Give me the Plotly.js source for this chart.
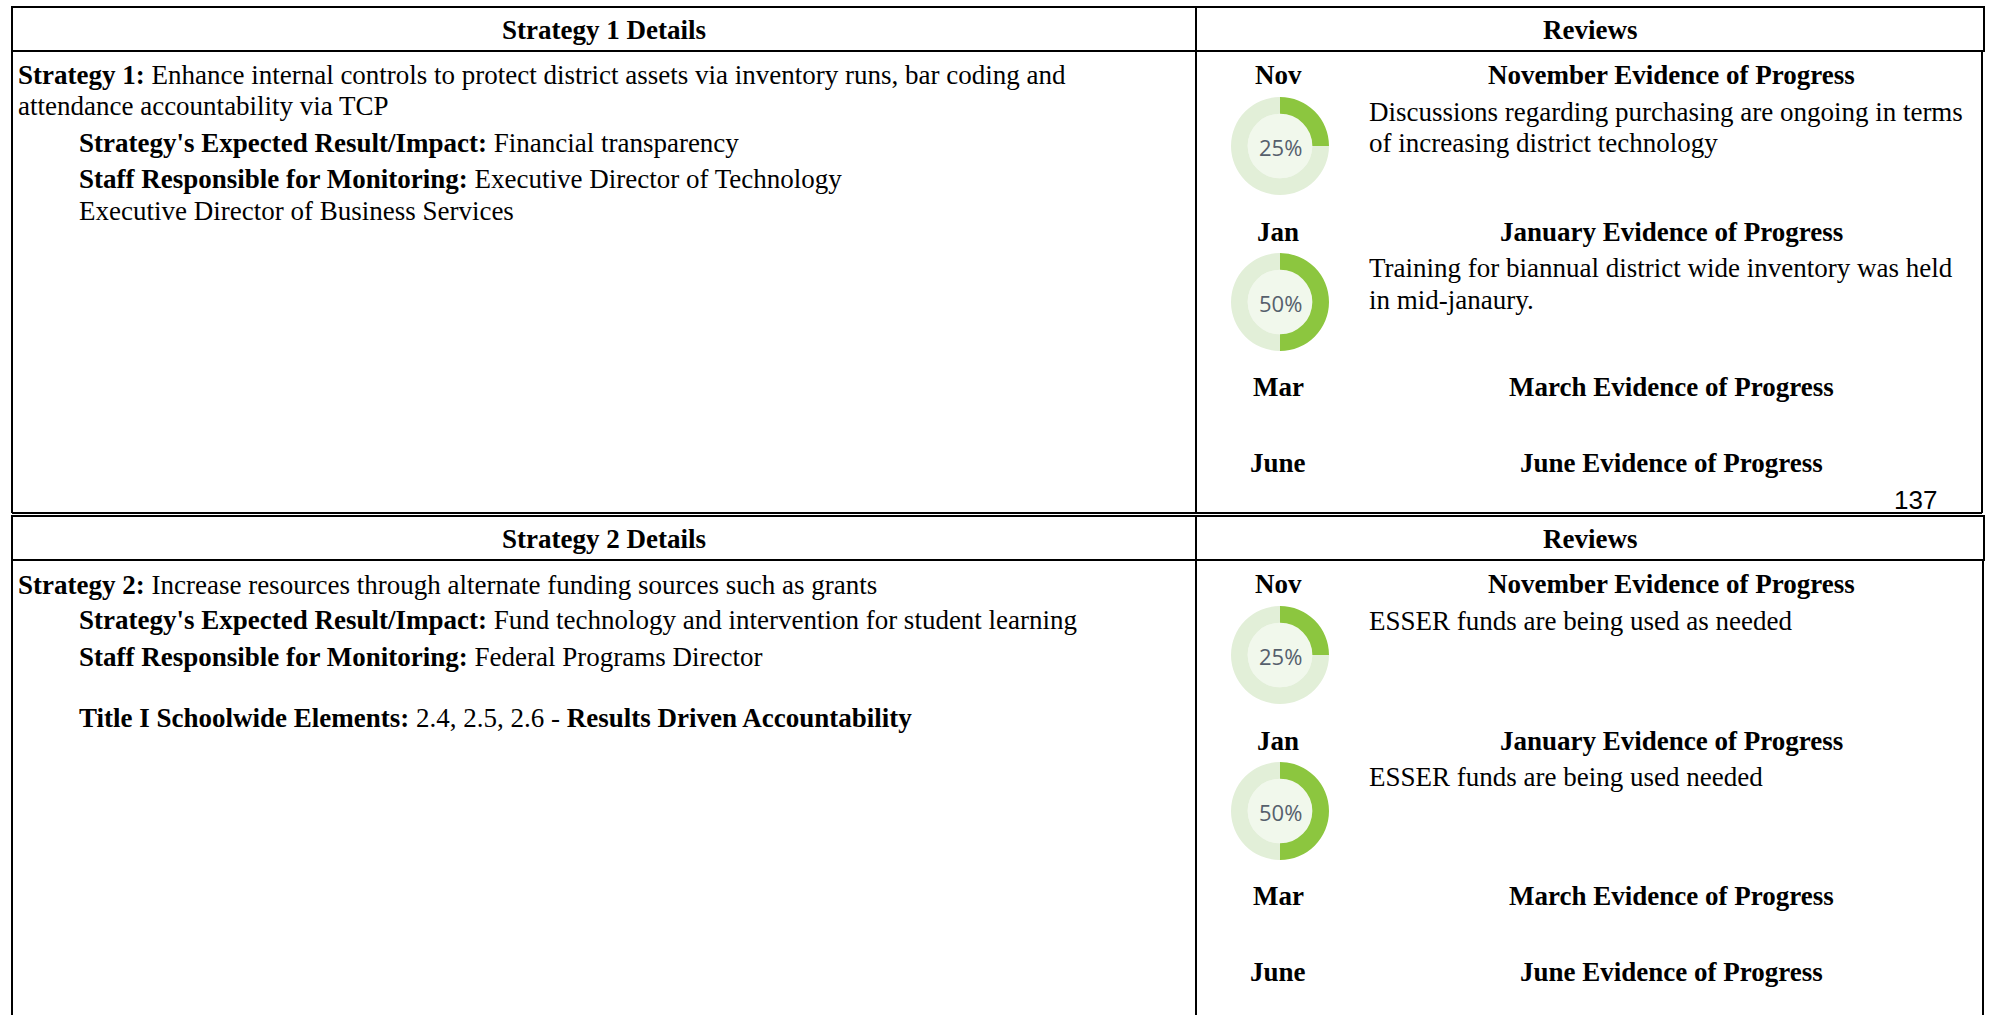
<!DOCTYPE html>
<html>
<head>
<meta charset="utf-8">
<script src="https://cdn.plot.ly/plotly-3.0.1.min.js"></script>
<style>html,body{margin:0;padding:0;background:#fff;}#chart{width:1990px;height:1015px;}</style>
</head>
<body>
<div id="chart"></div>
<script>
// ---------- data ----------
const headerLeft = ['Strategy 1 Details', 'Strategy 2 Details'];
const headerRight = 'Reviews';
const months = ['Nov', 'Jan', 'Mar', 'June'];
const evidenceTitles = ['November Evidence of Progress', 'January Evidence of Progress', 'March Evidence of Progress', 'June Evidence of Progress'];
const progressS1 = [25, 50, null, null];
const progressS2 = [25, 50, null, null];
const evidenceS1 = [
  ['Discussions regarding purchasing are ongoing in terms', 'of increasing district technology'],
  ['Training for biannual district wide inventory was held', 'in mid-janaury.'],
  [], []
];
const evidenceS2 = [
  ['ESSER funds are being used as needed'],
  ['ESSER funds are being used needed'],
  [], []
];
const detailsS1 = [
  '<b>Strategy 1:</b> Enhance internal controls to protect district assets via inventory runs, bar coding and',
  'attendance accountability via TCP',
  "<b>Strategy's Expected Result/Impact:</b> Financial transparency",
  '<b>Staff Responsible for Monitoring:</b> Executive Director of Technology',
  'Executive Director of Business Services'
];
const detailsS2 = [
  '<b>Strategy 2:</b> Increase resources through alternate funding sources such as grants',
  "<b>Strategy's Expected Result/Impact:</b> Fund technology and intervention for student learning",
  '<b>Staff Responsible for Monitoring:</b> Federal Programs Director',
  '<b>Title I Schoolwide Elements:</b> 2.4, 2.5, 2.6 - <b>Results Driven Accountability</b>'
];
const pageNumber = '137';

// ---------- layout helpers ----------
const W = 1990, H = 1015;
const SERIF = 'Liberation Serif, Times New Roman, serif';
const FS = 27;
const GREEN = '#8cc63f', PALE = '#e2efd8', INNER = '#f1f8ec';
const HOLE = 0.66;
const annotations = [];
const shapes = [];
const traces = [];

function txt(x, y, text, opts) {
  opts = opts || {};
  annotations.push({
    xref: 'x', yref: 'y', x: x, y: y, text: text, showarrow: false,
    xanchor: opts.xanchor || 'left', yanchor: 'middle',
    font: {family: opts.family || SERIF, size: opts.size || FS, color: opts.color || '#000'}
  });
}
function line(x0, y0, x1, y1) {
  shapes.push({type: 'line', xref: 'x', yref: 'y', x0: x0, y0: y0, x1: x1, y1: y1,
    line: {color: '#000', width: 2}});
}
function rect(x0, y0, x1, y1) {
  shapes.push({type: 'rect', xref: 'x', yref: 'y', x0: x0, y0: y0, x1: x1, y1: y1,
    line: {color: '#000', width: 2}, fillcolor: 'rgba(0,0,0,0)'});
}
function donut(cx, cy, r, p) {
  shapes.push({type: 'circle', xref: 'x', yref: 'y', layer: 'below',
    x0: cx - r * HOLE, x1: cx + r * HOLE, y0: cy - r * HOLE, y1: cy + r * HOLE,
    line: {width: 0}, fillcolor: INNER});
  traces.push({
    type: 'pie', values: [p, 100 - p], sort: false, direction: 'clockwise', rotation: 0,
    hole: HOLE, textinfo: 'none', hoverinfo: 'none',
    marker: {colors: [GREEN, PALE], line: {width: 0}},
    domain: {x: [(cx - r) / W, (cx + r) / W], y: [1 - (cy + r) / H, 1 - (cy - r) / H]},
    showlegend: false
  });
  txt(cx, cy + 1, p + '%', {xanchor: 'center', family: 'Open Sans, Noto Sans, sans-serif', size: 22, color: '#56606c'});
}

// ---------- sections ----------
const secTop = [7, 516];
const secBottom = [513, 1015];
const rightBorderBody = [1982, 1983];

[0, 1].forEach(function (s) {
  const top = secTop[s];
  const off = top - 7;
  rect(12, top, 1984, top + 44);
  line(1196, top, 1196, secBottom[s]);
  line(12, top + 44, 12, secBottom[s]);
  line(rightBorderBody[s], top + 44, rightBorderBody[s], secBottom[s]);
  if (s === 0) line(12, secBottom[s], rightBorderBody[s], secBottom[s]);
  txt(604, top + 23, '<b>' + headerLeft[s] + '</b>', {xanchor: 'center'});
  txt(1590, top + 23, '<b>' + headerRight + '</b>', {xanchor: 'center'});

  const monthY = [75, 232, 387, 463];
  const donutY = [146, 302];
  const evY = [[112, 143], [268, 300]];
  const prog = s === 0 ? progressS1 : progressS2;
  const ev = s === 0 ? evidenceS1 : evidenceS2;
  months.forEach(function (m, i) {
    txt(1278, monthY[i] + off, '<b>' + m + '</b>', {xanchor: 'center'});
    txt(1671, monthY[i] + off, '<b>' + evidenceTitles[i] + '</b>', {xanchor: 'center'});
    if (prog[i] !== null) donut(1280, donutY[i] + off, 49, prog[i]);
    ev[i].forEach(function (t, k) {
      txt(1367, evY[i][k] + off, t);
    });
  });
});

// details column
const d1x = [16, 16, 77, 77, 77];
const d1y = [75, 106, 143, 179, 211];
detailsS1.forEach(function (t, i) { txt(d1x[i], d1y[i], t); });
const d2x = [16, 77, 77, 77];
const d2y = [585, 620, 657, 718];
detailsS2.forEach(function (t, i) { txt(d2x[i], d2y[i], t); });

txt(1915, 500, pageNumber, {xanchor: 'center', family: 'Liberation Sans, Arial, sans-serif', size: 26});

const layout = {
  width: W, height: H,
  margin: {l: 0, r: 0, t: 0, b: 0, pad: 0},
  paper_bgcolor: '#fff', plot_bgcolor: 'rgba(0,0,0,0)',
  xaxis: {range: [0, W], visible: false, fixedrange: true, domain: [0, 1]},
  yaxis: {range: [H, 0], visible: false, fixedrange: true, domain: [0, 1]},
  showlegend: false,
  shapes: shapes,
  annotations: annotations
};
traces.unshift({type: 'scatter', x: [0, W], y: [0, H], mode: 'markers', marker: {opacity: 0}, hoverinfo: 'skip', showlegend: false});
Plotly.newPlot('chart', traces, layout, {staticPlot: true, displayModeBar: false});
</script>
</body>
</html>
